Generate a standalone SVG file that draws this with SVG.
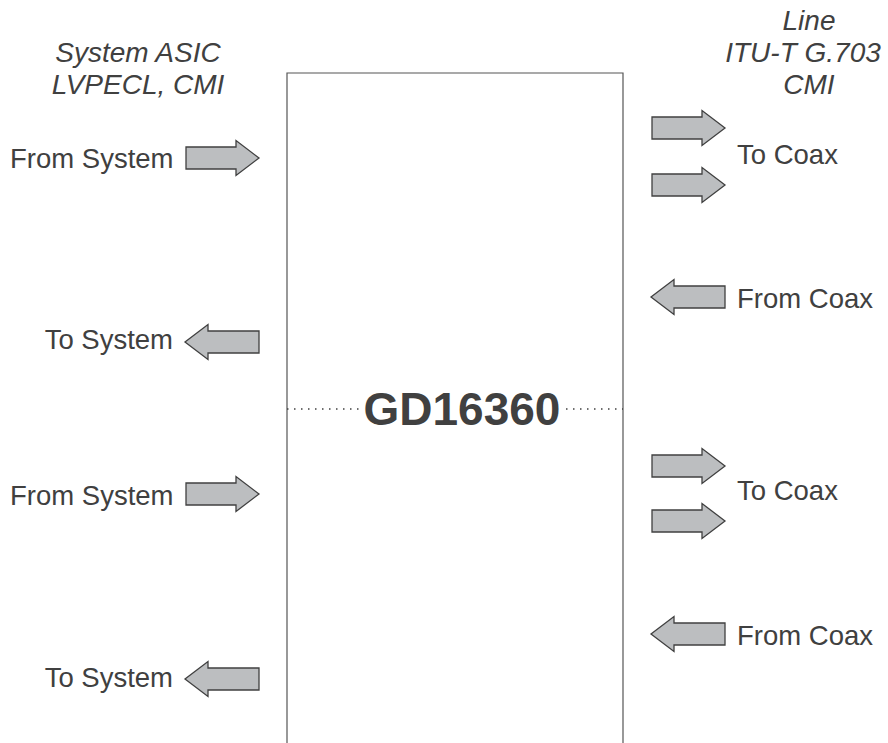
<svg xmlns="http://www.w3.org/2000/svg" width="888" height="743" viewBox="0 0 888 743">
<style>
text{font-family:"Liberation Sans",Arial,sans-serif;fill:#404040}
.l{font-size:27.5px}
.h{font-style:italic;text-anchor:middle;font-size:28px}
.t{font-weight:bold;font-size:46px;text-anchor:middle}
.arr{fill:#bcbec0;stroke:#404040;stroke-width:1.3;stroke-linejoin:miter}
</style>
<defs>
<path id="ar" d="M0,-11 H50 V-17.5 L73,0 L50,17.5 V11 H0 Z"/>
<path id="al" d="M0,-11 H-51 V-17.5 L-74,0 L-51,17.5 V11 H0 Z"/>
</defs>
<rect width="888" height="743" fill="#fff"/>
<g id="chip">
<path d="M287,743 V73 H623 V743" fill="none" stroke="#555" stroke-width="1.2"/>
<line x1="287" y1="409" x2="360" y2="409" stroke="#404040" stroke-width="1.5" stroke-dasharray="1.5,5.5"/>
<line x1="566" y1="409" x2="623" y2="409" stroke="#404040" stroke-width="1.5" stroke-dasharray="1.5,5.5"/>
<text class="t" x="462" y="425">GD16360</text>
</g>
<g id="headers">
<text class="h" x="138" y="62">System ASIC</text>
<text class="h" x="138" y="94">LVPECL, CMI</text>
<text class="h" x="809" y="30">Line</text>
<text class="h" x="803" y="62">ITU-T G.703</text>
<text class="h" x="809" y="94">CMI</text>
</g>
<g id="connectors">
<use href="#ar" class="arr" x="186" y="158"/>
<use href="#al" class="arr" x="259" y="342"/>
<use href="#ar" class="arr" x="186" y="494"/>
<use href="#al" class="arr" x="259" y="679"/>
<use href="#ar" class="arr" x="652" y="128"/>
<use href="#ar" class="arr" x="652" y="185"/>
<use href="#al" class="arr" x="725" y="297"/>
<use href="#ar" class="arr" x="652" y="466"/>
<use href="#ar" class="arr" x="652" y="521"/>
<use href="#al" class="arr" x="725" y="634"/>
</g>
<g id="labels">
<text class="l" x="10" y="168">From System</text>
<text class="l" x="173" y="349" text-anchor="end">To System</text>
<text class="l" x="10" y="505">From System</text>
<text class="l" x="173" y="687" text-anchor="end">To System</text>
<text class="l" x="737" y="164">To Coax</text>
<text class="l" x="737" y="308">From Coax</text>
<text class="l" x="737" y="500">To Coax</text>
<text class="l" x="737" y="645">From Coax</text>
</g>
</svg>
